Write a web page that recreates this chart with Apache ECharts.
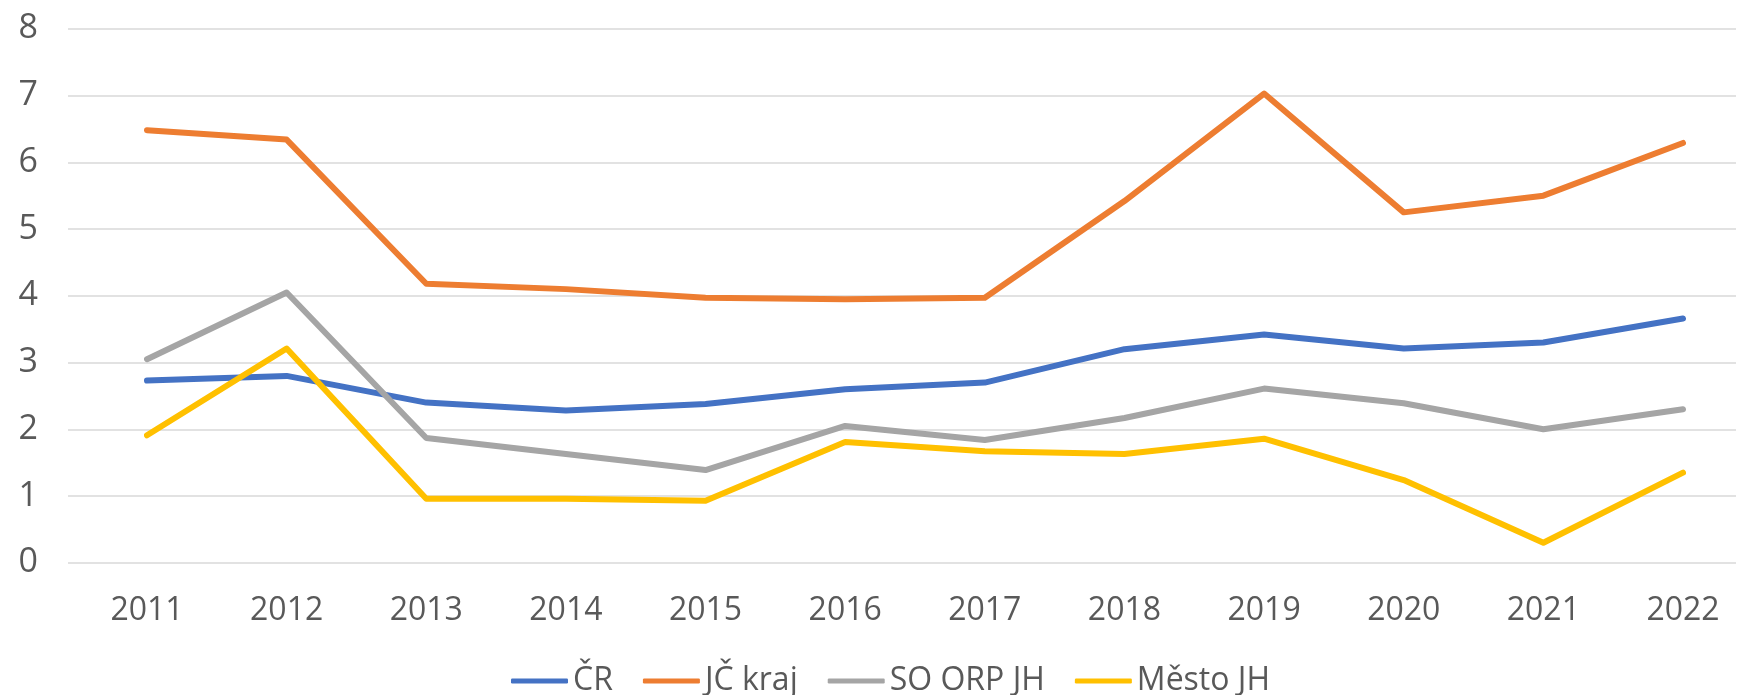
<!DOCTYPE html>
<html>
<head>
<meta charset="utf-8">
<script src="https://cdn.jsdelivr.net/npm/echarts@6/dist/echarts.min.js"></script>
<style>
html,body{margin:0;padding:0;background:#fff;}
#chart{width:1737px;height:695px;}
</style>
</head>
<body>
<div id="chart"></div>
<script>
const years = ['2011','2012','2013','2014','2015','2016','2017','2018','2019','2020','2021','2022'];
const cr = [2.73, 2.80, 2.40, 2.28, 2.38, 2.60, 2.70, 3.20, 3.42, 3.21, 3.30, 3.66];
const jcKraj = [6.48, 6.34, 4.18, 4.10, 3.97, 3.95, 3.97, 5.42, 7.03, 5.25, 5.50, 6.29];
const soOrpJh = [3.05, 4.05, 1.87, 1.63, 1.39, 2.05, 1.84, 2.17, 2.61, 2.39, 2.00, 2.30];
const mestoJh = [1.91, 3.21, 0.96, 0.96, 0.93, 1.81, 1.67, 1.63, 1.86, 1.24, 0.30, 1.35];
const seriesNames = ['ČR', 'JČ kraj', 'SO ORP JH', 'Město JH'];
const colors = ['#4472C4', '#ED7D31', '#A5A5A5', '#FFC000'];
const yMin = 0, yMax = 8, yStep = 1;

const font = '"Open Sans", "Noto Sans", sans-serif';
const textColor = '#595959';
const chart = echarts.init(document.getElementById('chart'));
const allData = [cr, jcKraj, soOrpJh, mestoJh];

chart.setOption({
  animation: false,
  backgroundColor: '#ffffff',
  color: colors,
  textStyle: {fontFamily: font},
  grid: [
    {left: 68, right: 1, top: 28.8, bottom: 132.2},
    {left: 147, right: 54, top: 28.8, bottom: 132.2}
  ],
  legend: {
    data: seriesNames.map(n => ({name: n, icon: 'roundRect'})),
    left: 506,
    top: 658,
    itemWidth: 57,
    itemHeight: 5,
    itemGap: 30,
    textStyle: {color: textColor, fontSize: 32, fontFamily: font, lineHeight: 36}
  },
  xAxis: [
    {type: 'category', gridIndex: 0, data: years, show: false},
    {
      type: 'category', gridIndex: 1, data: years, boundaryGap: false,
      axisLine: {show: false}, axisTick: {show: false},
      axisLabel: {color: textColor, fontSize: 32, fontFamily: font, margin: 32},
      splitLine: {show: false}
    }
  ],
  yAxis: [
    {
      type: 'value', gridIndex: 0, min: yMin, max: yMax, interval: yStep,
      axisLine: {show: false}, axisTick: {show: false},
      axisLabel: {color: textColor, fontSize: 34, fontFamily: font, margin: 30},
      splitLine: {lineStyle: {color: '#D9D9D9', width: 1.5}}
    },
    {
      type: 'value', gridIndex: 1, min: yMin, max: yMax, interval: yStep,
      show: false, splitLine: {show: false}
    }
  ],
  series: allData.map((d, i) => ({
    name: seriesNames[i],
    type: 'line',
    xAxisIndex: 1,
    yAxisIndex: 1,
    data: d,
    symbol: 'none',
    lineStyle: {width: 6, color: colors[i], cap: 'round', join: 'round'},
    itemStyle: {color: colors[i]}
  }))
});
</script>
</body>
</html>
